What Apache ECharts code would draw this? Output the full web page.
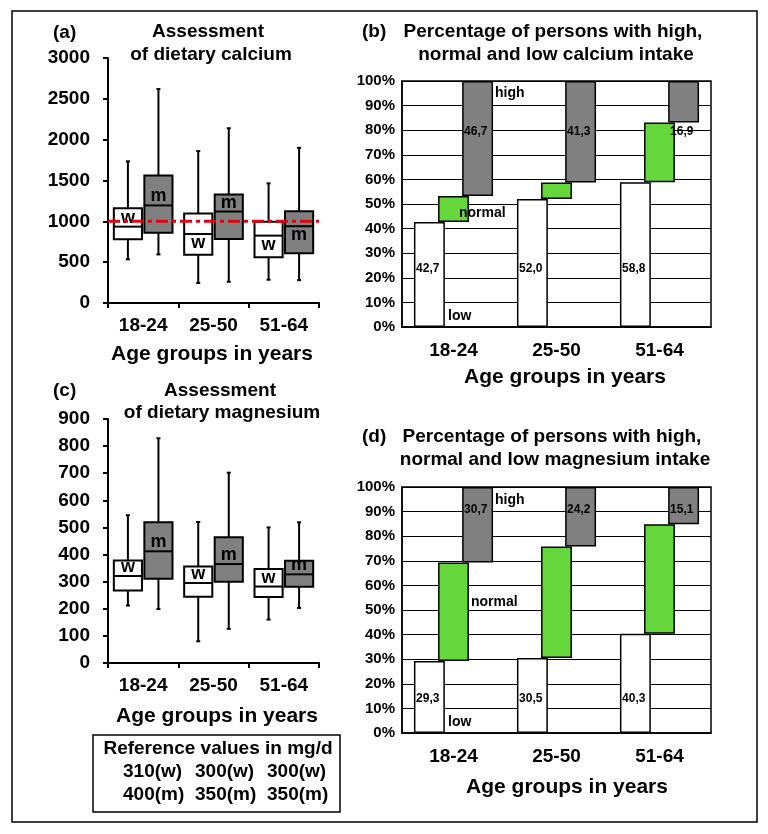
<!DOCTYPE html>
<html>
<head>
<meta charset="utf-8">
<script src="https://cdn.jsdelivr.net/npm/echarts@6/dist/echarts.min.js"></script>
<style>
html,body{margin:0;padding:0;background:#fff;}
#c{width:768px;height:834px;}
</style>
</head>
<body>
<div id="c"></div>
<script>
// ---------- data ----------
const categories = ['18-24', '25-50', '51-64'];
// box plots: [min, q1, median, q3, max]
const calciumWomen = [[535, 780, 935, 1160, 1735], [245, 590, 845, 1095, 1860], [285, 560, 825, 995, 1465]];
const calciumMen   = [[595, 860, 1195, 1560, 2620], [260, 785, 1120, 1330, 2140], [280, 610, 940, 1125, 1900]];
const magnesiumWomen = [[212, 267, 321, 378, 545], [80, 244, 295, 356, 520], [160, 243, 282, 347, 500]];
const magnesiumMen   = [[199, 311, 412, 519, 829], [126, 300, 365, 464, 702], [203, 281, 327, 377, 519]];
const calciumReference = 1000;
const calciumTicks = [0, 500, 1000, 1500, 2000, 2500, 3000];
const magnesiumTicks = [0, 100, 200, 300, 400, 500, 600, 700, 800, 900];
// percentages
const calciumLow  = [42.7, 52.0, 58.8];
const calciumHigh = [46.7, 41.3, 16.9];
const magnesiumLow  = [29.3, 30.5, 40.3];
const magnesiumHigh = [30.7, 24.2, 15.1];
const referenceRows = [['310(w)', '300(w)', '300(w)'], ['400(m)', '350(m)', '350(m)']];

// ---------- helpers ----------
const FONT = '"Liberation Sans", Arial, sans-serif';
const GREEN = '#66d63d';
const GRAY = '#808080';

function boxRender(offsetFrac, fill, dirs, letter) {
  return function (params, api) {
    const i = params.dataIndex;
    const cat = api.value(0);
    const lo = api.coord([cat, api.value(1)]);
    const q1 = api.coord([cat, api.value(2)]);
    const md = api.coord([cat, api.value(3)]);
    const q3 = api.coord([cat, api.value(4)]);
    const hi = api.coord([cat, api.value(5)]);
    const band = api.size([1, 0])[0];
    const cx = lo[0] + offsetFrac * band;
    const hw = band * 0.2;
    const ls = { stroke: '#000', lineWidth: 2 };
    const dy = dirs[i] === 'up' ? -9 : 9;
    return {
      type: 'group',
      children: [
        { type: 'line', shape: { x1: cx, y1: hi[1], x2: cx, y2: q3[1] }, style: ls },
        { type: 'line', shape: { x1: cx, y1: q1[1], x2: cx, y2: lo[1] }, style: ls },
        { type: 'line', shape: { x1: cx - 2, y1: hi[1], x2: cx + 2, y2: hi[1] }, style: ls },
        { type: 'line', shape: { x1: cx - 2, y1: lo[1], x2: cx + 2, y2: lo[1] }, style: ls },
        { type: 'rect', shape: { x: cx - hw, y: q3[1], width: 2 * hw, height: q1[1] - q3[1] },
          style: { fill: fill, stroke: '#000', lineWidth: 2 } },
        { type: 'line', shape: { x1: cx - hw, y1: md[1], x2: cx + hw, y2: md[1] }, style: ls },
        { type: 'text', x: cx, y: md[1] + dy,
          style: { text: letter, fill: '#000', font: 'bold 18px ' + FONT, align: 'center', verticalAlign: 'middle' } }
      ]
    };
  };
}

function boxData(arr) {
  return arr.map((d, i) => [i].concat(d));
}

function boxAxes(gridIndex, ticks) {
  const x = {
    type: 'category', gridIndex: gridIndex, data: categories,
    axisLine: { lineStyle: { color: '#000', width: 2 } },
    axisTick: { show: true, length: 5, lineStyle: { color: '#000', width: 2 } },
    axisLabel: { color: '#000', fontSize: 19, fontWeight: 'bold', fontFamily: FONT, margin: 13 }
  };
  const y = {
    type: 'value', gridIndex: gridIndex, min: ticks[0], max: ticks[ticks.length - 1],
    interval: ticks[1] - ticks[0],
    axisLine: { show: true, lineStyle: { color: '#000', width: 2 } },
    axisTick: { show: true, length: 5, lineStyle: { color: '#000', width: 2 } },
    splitLine: { show: false },
    axisLabel: { color: '#000', fontSize: 19, fontWeight: 'bold', fontFamily: FONT, margin: 18,
      formatter: v => String(v) }
  };
  return [x, y];
}

function pctAxes(gridIndex) {
  const x = {
    type: 'category', gridIndex: gridIndex, data: categories,
    axisLine: { lineStyle: { color: '#000', width: 1.5 } },
    axisTick: { show: false },
    axisLabel: { color: '#000', fontSize: 19, fontWeight: 'bold', fontFamily: FONT, margin: 14 }
  };
  const y = {
    type: 'value', gridIndex: gridIndex, min: 0, max: 100, interval: 10,
    axisLine: { show: true, lineStyle: { color: '#000', width: 1.5 } },
    axisTick: { show: false },
    splitLine: { show: true, lineStyle: { color: '#000', width: 1.2 } },
    axisLabel: { color: '#000', fontSize: 15, fontWeight: 'bold', fontFamily: FONT, margin: 7, formatter: '{value}%' }
  };
  return [x, y];
}

function pctSeries(axisIndex, low, high, layout) {
  const normal = low.map((l, i) => +(100 - l - high[i]).toFixed(1));
  const highBase = high.map(h => +(100 - h).toFixed(1));
  const common = { type: 'bar', xAxisIndex: axisIndex, yAxisIndex: axisIndex, barWidth: '30%', barGap: '-22%' };
  const border = { borderColor: '#000', borderWidth: 1.5 };
  const fmt = v => v.toFixed(1).replace('.', ',');
  return [
    Object.assign({}, common, { stack: 's' + axisIndex + 'low', data: low,
      itemStyle: Object.assign({ color: '#fff' }, border) }),
    Object.assign({}, common, { stack: 's' + axisIndex + 'normal', data: low, silent: true,
      itemStyle: { color: 'rgba(0,0,0,0)', borderWidth: 0 } }),
    Object.assign({}, common, { stack: 's' + axisIndex + 'normal', data: normal,
      itemStyle: Object.assign({ color: GREEN }, border) }),
    Object.assign({}, common, { stack: 's' + axisIndex + 'high', data: highBase, silent: true,
      itemStyle: { color: 'rgba(0,0,0,0)', borderWidth: 0 } }),
    Object.assign({}, common, { stack: 's' + axisIndex + 'high', data: high,
      itemStyle: Object.assign({ color: GRAY }, border) }),
    {
      type: 'custom', xAxisIndex: axisIndex, yAxisIndex: axisIndex, z: 20, silent: true,
      data: categories.map((c, i) => [i, 50]),
      renderItem: function (params, api) {
        const i = params.dataIndex;
        const band = api.size([1, 0])[0];
        const cx = api.coord([i, 0])[0];
        const numFont = 'bold 12px ' + FONT;
        const wordFont = 'bold 14px ' + FONT;
        const children = [
          { type: 'text', x: cx + 0.083 * band + 2, y: api.coord([i, layout.highY])[1],
            style: { text: fmt(high[i]), fill: '#000', font: numFont, align: 'left', verticalAlign: 'middle' } },
          { type: 'text', x: cx - 0.383 * band + 2, y: api.coord([i, layout.lowY])[1],
            style: { text: fmt(low[i]), fill: '#000', font: numFont, align: 'left', verticalAlign: 'middle' } }
        ];
        if (i === 0) {
          children.push(
            { type: 'text', x: cx + 0.403 * band, y: api.coord([i, layout.wHighY])[1],
              style: { text: 'high', fill: '#000', font: wordFont, align: 'left', verticalAlign: 'middle' } },
            { type: 'text', x: cx + layout.wNormalX * band, y: api.coord([i, layout.wNormalY])[1],
              style: { text: 'normal', fill: '#000', font: wordFont, align: 'left', verticalAlign: 'middle' } },
            { type: 'text', x: cx - 0.053 * band, y: api.coord([i, layout.wLowY])[1],
              style: { text: 'low', fill: '#000', font: wordFont, align: 'left', verticalAlign: 'middle' } }
          );
        }
        return { type: 'group', children: children };
      }
    }
  ];
}

function txt(x, y, text, align, size) {
  return { type: 'text', x: x, y: y, z: 50,
    style: { text: text, fill: '#000', font: 'bold ' + (size || 19) + 'px ' + FONT, align: align || 'center', verticalAlign: 'middle' } };
}

// ---------- option ----------
const ax0 = boxAxes(0, calciumTicks);
const ax1 = pctAxes(1);
const ax2 = boxAxes(2, magnesiumTicks);
const ax3 = pctAxes(3);

const graphics = [
  { type: 'rect', z: 40, shape: { x: 12, y: 11, width: 745, height: 811 }, style: { fill: 'none', stroke: '#000', lineWidth: 1.5 } },
  txt(53, 33, '(a)', 'left'),
  txt(208, 32, 'Assessment'),
  txt(211, 55, 'of dietary calcium'),
  txt(212, 354, 'Age groups in years', 'center', 21),
  txt(53, 391, '(c)', 'left'),
  txt(220, 391, 'Assessment'),
  txt(222, 413, 'of dietary magnesium'),
  txt(217, 716, 'Age groups in years', 'center', 21),
  txt(362, 32, '(b)', 'left'),
  txt(553, 32, 'Percentage of persons with high,'),
  txt(556, 55, 'normal and low calcium intake'),
  txt(565, 377, 'Age groups in years', 'center', 21),
  txt(362, 437, '(d)', 'left'),
  txt(552, 437, 'Percentage of persons with high,'),
  txt(555, 460, 'normal and low magnesium intake'),
  txt(567, 787, 'Age groups in years', 'center', 21),
  { type: 'rect', z: 40, shape: { x: 93, y: 735, width: 247, height: 77 }, style: { fill: 'none', stroke: '#000', lineWidth: 1.5 } },
  txt(218, 749, 'Reference values in mg/d')
];
const refCols = [123, 195, 267];
const refRowsY = [772, 795];
referenceRows.forEach((row, r) => row.forEach((t, c) => graphics.push(txt(refCols[c], refRowsY[r], t, 'left'))));

const option = {
  animation: false,
  backgroundColor: '#fff',
  grid: [
    { left: 108, top: 58, width: 211, height: 245 },
    { left: 402, top: 81, width: 309, height: 246, show: true, borderColor: '#000', borderWidth: 1.5, backgroundColor: '#fff' },
    { left: 108, top: 419, width: 211, height: 244 },
    { left: 402, top: 487, width: 309, height: 246, show: true, borderColor: '#000', borderWidth: 1.5, backgroundColor: '#fff' }
  ],
  xAxis: [ax0[0], ax1[0], ax2[0], ax3[0]],
  yAxis: [ax0[1], ax1[1], ax2[1], ax3[1]],
  graphic: graphics,
  series: [
    { type: 'custom', xAxisIndex: 0, yAxisIndex: 0, data: boxData(calciumWomen),
      encode: { x: 0, y: [1, 2, 3, 4, 5] }, renderItem: boxRender(-0.217, '#fff', ['up', 'down', 'down'], 'w') },
    { type: 'custom', xAxisIndex: 0, yAxisIndex: 0, data: boxData(calciumMen),
      encode: { x: 0, y: [1, 2, 3, 4, 5] }, renderItem: boxRender(0.217, GRAY, ['up', 'up', 'down'], 'm') },
    { type: 'custom', xAxisIndex: 0, yAxisIndex: 0, z: 10, data: [[0, calciumReference]],
      renderItem: function (params, api) {
        const cs = params.coordSys;
        const y = api.coord([0, api.value(1)])[1];
        return { type: 'line', shape: { x1: cs.x, y1: y, x2: cs.x + cs.width, y2: y },
          style: { stroke: '#e8000b', lineWidth: 3, lineDash: [12, 4, 4, 4] } };
      } },
    { type: 'custom', xAxisIndex: 2, yAxisIndex: 2, data: boxData(magnesiumWomen),
      encode: { x: 0, y: [1, 2, 3, 4, 5] }, renderItem: boxRender(-0.217, '#fff', ['up', 'up', 'up'], 'w') },
    { type: 'custom', xAxisIndex: 2, yAxisIndex: 2, data: boxData(magnesiumMen),
      encode: { x: 0, y: [1, 2, 3, 4, 5] }, renderItem: boxRender(0.217, GRAY, ['up', 'up', 'up'], 'm') }
  ]
    .concat(pctSeries(1, calciumLow, calciumHigh, { highY: 79.3, lowY: 23.6, wHighY: 95.1, wNormalY: 46.3, wNormalX: 0.053, wLowY: 4.5 }))
    .concat(pctSeries(3, magnesiumLow, magnesiumHigh, { highY: 90.6, lowY: 13.8, wHighY: 94.7, wNormalY: 53.2, wNormalX: 0.17, wLowY: 4.5 }))
};

const chart = echarts.init(document.getElementById('c'), null, { renderer: 'canvas' });
chart.setOption(option);
</script>
</body>
</html>
